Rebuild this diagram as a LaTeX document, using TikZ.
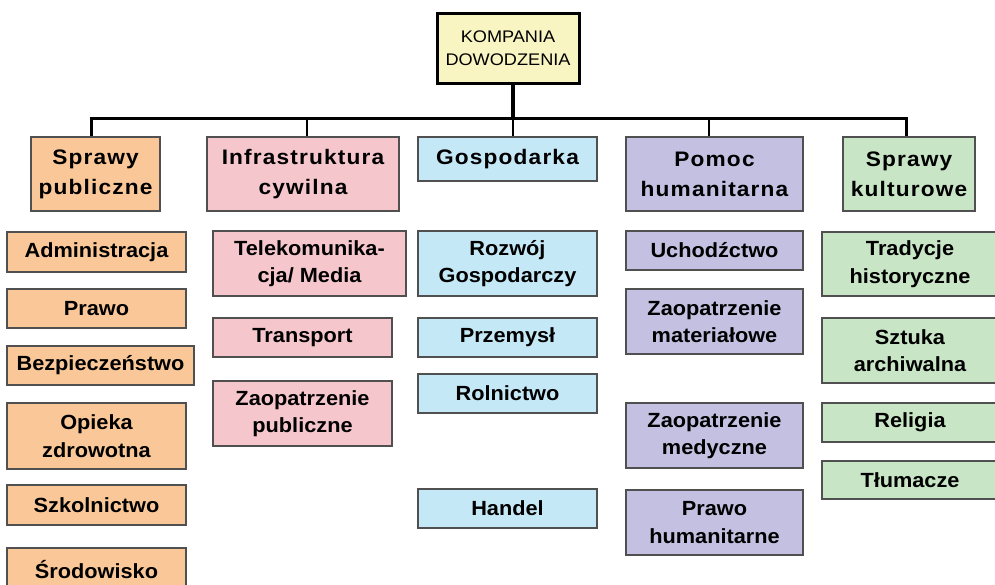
\documentclass[tikz,border=0pt]{standalone}
\usepackage{fontspec}
\setmainfont{Liberation Sans}
\newfontfamily\sfH[FakeStretch=1.08,LetterSpace=5.5]{Liberation Sans}
\newfontfamily\sfA[FakeStretch=1.06]{Liberation Sans}
\newfontfamily\sfT[FakeStretch=1.08]{Liberation Sans}
\definecolor{cYel}{HTML}{F9F5C2}
\definecolor{cOr}{HTML}{FAC898}
\definecolor{cPk}{HTML}{F5C6CC}
\definecolor{cBl}{HTML}{C5E8F7}
\definecolor{cLv}{HTML}{C4C0E2}
\definecolor{cGr}{HTML}{C8E6C6}
\definecolor{boxline}{HTML}{505050}
\tikzset{
  box/.style={draw=boxline, line width=1.3pt, inner sep=0pt, align=center, text=black},
  hd/.style={box, font={\sfH\bfseries\fontsize{21}{30}\selectfont}},
  ch/.style={box, font={\sfA\bfseries\fontsize{20.5}{27.5}\selectfont}},
  topbox/.style={draw=black, line width=3pt, fill=cYel, inner sep=0pt, align=center,
     font={\sfT\fontsize{16.8}{23}\selectfont}},
  bar/.style={draw=black, line width=3pt, line join=miter},
  drop/.style={draw=black, line width=2.5pt}
}
\begin{document}
\begin{tikzpicture}[x=1pt,y=-1pt]
\useasboundingbox (0,0) rectangle (995,584);
\clip (0,0) rectangle (995,584);
\fill[white] (0,0) rectangle (995,584);

% top
\node[topbox, minimum width=142pt, minimum height=70pt] (top) at (508,48) {KOMPANIA\\DOWODZENIA};

% headers
\node[hd, fill=cOr, minimum width=129pt, minimum height=74pt] (sp)  at (95.5,174) {Sprawy\\publiczne};
\node[hd, fill=cPk, minimum width=192pt, minimum height=74pt] (inf) at (303,174) {Infrastruktura\\cywilna};
\node[hd, fill=cBl, minimum width=179pt, minimum height=44pt] (gos) at (507.5,159) {Gospodarka};
\node[hd, fill=cLv, minimum width=177pt, minimum height=74pt] (pom) at (714.5,174) {Pomoc\\humanitarna};
\node[hd, fill=cGr, minimum width=132pt, minimum height=74pt] (kul) at (909,174) {Sprawy\\kulturowe};

% connectors
\coordinate (barL) at (91,118);
\coordinate (barR) at (906,118);
\draw[bar] (barL |- sp.north) -- (barL) -- (barR) -- (barR |- kul.north);
\draw[black, line width=4pt] ([xshift=5pt]top.south) -- ([xshift=5pt]top.south |- barL);
\draw[drop] ([xshift=4pt]inf.north |- barL) -- ([xshift=4pt]inf.north);
\draw[drop] ([xshift=5.5pt]gos.north |- barL) -- ([xshift=5.5pt]gos.north);
\draw[drop] ([xshift=-5.5pt]pom.north |- barL) -- ([xshift=-5.5pt]pom.north);

% column 1
\node[ch, fill=cOr, minimum width=179pt, minimum height=40pt] (adm) at (96.5,252) {Administracja};
\node[ch, fill=cOr, minimum width=179pt, minimum height=39pt] (pra) at (96.5,308.5) {Prawo};
\node[ch, fill=cOr, minimum width=187pt, minimum height=39pt] (bez) at (100.5,365.5) {Bezpieczeństwo};
\node[ch, fill=cOr, minimum width=179pt, minimum height=66pt] (opi) at (96.5,436) {Opieka\\zdrowotna};
\node[ch, fill=cOr, minimum width=179pt, minimum height=40pt] (szk) at (96.5,505) {Szkolnictwo};
\node[ch, fill=cOr, minimum width=179pt, minimum height=44pt] (sro) at (96.5,570) {Środowisko};

% column 2
\node[ch, fill=cPk, minimum width=193pt, minimum height=65pt] (tel) at (309.5,263.5) {Telekomunika-\\cja/ Media};
\node[ch, fill=cPk, minimum width=179pt, minimum height=39pt] (trn) at (302.5,337.5) {Transport};
\node[ch, fill=cPk, minimum width=179pt, minimum height=65pt] (zpu) at (302.5,413.5) {Zaopatrzenie\\publiczne};

% column 3
\node[ch, fill=cBl, minimum width=179pt, minimum height=65pt] (roz) at (507.5,263.5) {Rozwój\\Gospodarczy};
\node[ch, fill=cBl, minimum width=179pt, minimum height=39pt] (prz) at (507.5,337.5) {Przemysł};
\node[ch, fill=cBl, minimum width=179pt, minimum height=39pt] (rol) at (507.5,393.5) {Rolnictwo};
\node[ch, fill=cBl, minimum width=179pt, minimum height=39pt] (han) at (507.5,508.5) {Handel};

% column 4
\node[ch, fill=cLv, minimum width=177pt, minimum height=39pt] (uch) at (714.5,250.5) {Uchodźctwo};
\node[ch, fill=cLv, minimum width=177pt, minimum height=65pt] (zma) at (714.5,321.5) {Zaopatrzenie\\materiałowe};
\node[ch, fill=cLv, minimum width=177pt, minimum height=65pt] (zme) at (714.5,435.5) {Zaopatrzenie\\medyczne};
\node[ch, fill=cLv, minimum width=177pt, minimum height=65pt] (prh) at (714.5,522.5) {Prawo\\humanitarne};

% column 5
\node[ch, fill=cGr, minimum width=176pt, minimum height=64pt] (tra) at (910,264) {Tradycje\\historyczne};
\node[ch, fill=cGr, minimum width=176pt, minimum height=65pt] (szt) at (910,350.5) {Sztuka\\archiwalna};
\node[ch, fill=cGr, minimum width=176pt, minimum height=39pt] (rel) at (910,422.5) {Religia};
\node[ch, fill=cGr, minimum width=176pt, minimum height=38pt] (tlu) at (910,480) {Tłumacze};
\end{tikzpicture}
\end{document}
